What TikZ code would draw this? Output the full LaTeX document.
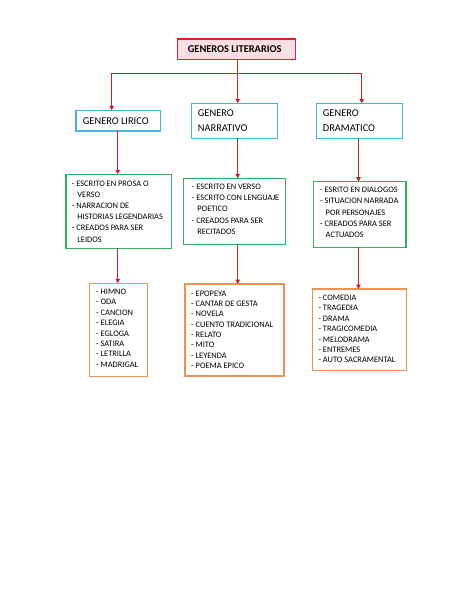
\documentclass[tikz,border=0pt]{standalone}
\usepackage{fontspec}
\setmainfont{Carlito}
\usetikzlibrary{arrows.meta}
\definecolor{redB}{RGB}{225,30,45}
\definecolor{pinkF}{RGB}{253,222,228}
\definecolor{cyanB}{RGB}{70,180,225}
\definecolor{greenB}{RGB}{50,175,95}
\definecolor{orangeB}{RGB}{240,145,80}
\definecolor{arrR}{RGB}{195,35,45}
\tikzset{
  boxbase/.style={draw, line width=1.5pt, inner sep=0pt, outer sep=0pt, anchor=north west},
  titlebox/.style={boxbase, draw=redB, fill=pinkF},
  genbox/.style={boxbase, draw=cyanB},
  featbox/.style={boxbase, draw=greenB},
  listbox/.style={boxbase, draw=orangeB},
  txt/.style={anchor=base west, inner sep=0pt, text=black},
  gtxt/.style={txt, font=\fontsize{10.4}{15}\selectfont},
  ftxt/.style={txt, font=\fontsize{8.4}{11.2}\selectfont},
  ltxt/.style={txt, font=\fontsize{8.4}{10.4}\selectfont},
  conn/.style={draw=arrR, line width=1.3pt},
  arr/.style={conn, -{Triangle[length=4.5pt,width=4.5pt]}}
}
\newcommand{\hg}{\hspace*{5.5pt}}
\newcommand{\lst}[1]{\parbox[t]{120pt}{\raggedright #1}}
\begin{document}
\begin{tikzpicture}[x=1pt,y=-1pt]
\useasboundingbox[fill=white] (0,0) rectangle (474,613);
% title
\node[titlebox, minimum width=118pt, minimum height=20.3pt] (title) at (177.7,39) {};
\node[inner sep=0pt, font=\fontsize{10.4}{12}\selectfont\bfseries] (titleT) at ([xshift=-2pt]title.center) {GENEROS LITERARIOS};
% level 1
\node[genbox, minimum width=84.7pt, minimum height=20.7pt] (lir) at (76,110.3) {};
\node[gtxt] (lirT) at (82.7,124) {GENERO LIRICO};
\node[genbox, minimum width=86pt, minimum height=35pt] (nar) at (191.7,103.3) {};
\node[gtxt] (narT) at (197.7,116.6) {\lst{GENERO\\NARRATIVO}};
\node[genbox, minimum width=85.6pt, minimum height=35pt] (dra) at (316.7,103.3) {};
\node[gtxt] (draT) at (322.7,116.6) {\lst{GENERO\\DRAMATICO}};
% level 2
\node[featbox, minimum width=105.7pt, minimum height=74pt] (lirF) at (66,174.3) {};
\node[ftxt, font=\fontsize{8.4}{11.06}\selectfont] (lirFT) at (71.7,186.7) {\lst{- ESCRITO EN PROSA O\\\hg VERSO\\- NARRACION DE\\\hg HISTORIAS LEGENDARIAS\\- CREADOS PARA SER\\\hg LEIDOS}};
\node[featbox, minimum width=102.4pt, minimum height=66pt] (narF) at (183.3,178.3) {};
\node[ftxt] (narFT) at (191.7,189.4) {\lst{- ESCRITO EN VERSO\\- ESCRITO CON LENGUAJE\\\hg POETICO\\- CREADOS PARA SER\\\hg RECITADOS}};
\node[featbox, minimum width=92.7pt, minimum height=65.6pt] (draF) at (313.3,181.7) {};
\node[ftxt] (draFT) at (320,192.7) {\lst{- ESRITO EN DIALOGOS\\- SITUACION NARRADA\\\hg POR PERSONAJES\\- CREADOS PARA SER\\\hg ACTUADOS}};
% level 3
\node[listbox, minimum width=58.4pt, minimum height=93.4pt] (lirL) at (89.3,283.3) {};
\node[ltxt] (lirLT) at (96,294.4) {\lst{- HIMNO\\- ODA\\- CANCION\\- ELEGIA\\- EGLOGA\\- SATIRA\\- LETRILLA\\- MADRIGAL}};
\node[listbox, minimum width=99pt, minimum height=92pt] (narL) at (185,284) {};
\node[ltxt, font=\fontsize{8.4}{10.35}\selectfont] (narLT) at (191,296) {\lst{- EPOPEYA\\- CANTAR DE GESTA\\- NOVELA\\- CUENTO TRADICIONAL\\- RELATO\\- MITO\\- LEYENDA\\- POEMA EPICO}};
\node[listbox, minimum width=94.4pt, minimum height=81.7pt] (draL) at (312.3,289) {};
\node[ltxt] (draLT) at (318.3,300.4) {\lst{- COMEDIA\\- TRAGEDIA\\- DRAMA\\- TRAGICOMEDIA\\- MELODRAMA\\- ENTREMES\\- AUTO SACRAMENTAL}};
% connectors
\coordinate (hub) at (237.7,73.3);
\coordinate (barL) at (111.7,73.3);
\coordinate (barR) at (361.7,73.3);
\coordinate (xL) at (117.8,0);
\coordinate (xM) at (237.7,0);
\coordinate (xR) at (358.5,0);
\draw[conn] (title.south -| hub) -- (hub);
\draw[conn] (barL) -- (barR);
\draw[arr] (barL) -- (barL |- lir.north);
\draw[arr] (hub) -- (hub |- nar.north);
\draw[arr] (barR) -- (barR |- dra.north);
\draw[arr] (lir.south -| xL) -- (lirF.north -| xL);
\draw[arr] (nar.south -| xM) -- (narF.north -| xM);
\draw[arr] (dra.south -| xR) -- (draF.north -| xR);
\draw[arr] (lirF.south -| xL) -- (lirL.north -| xL);
\draw[arr] (narF.south -| xM) -- (narL.north -| xM);
\draw[arr] (draF.south -| xR) -- (draL.north -| xR);
\end{tikzpicture}
\end{document}
